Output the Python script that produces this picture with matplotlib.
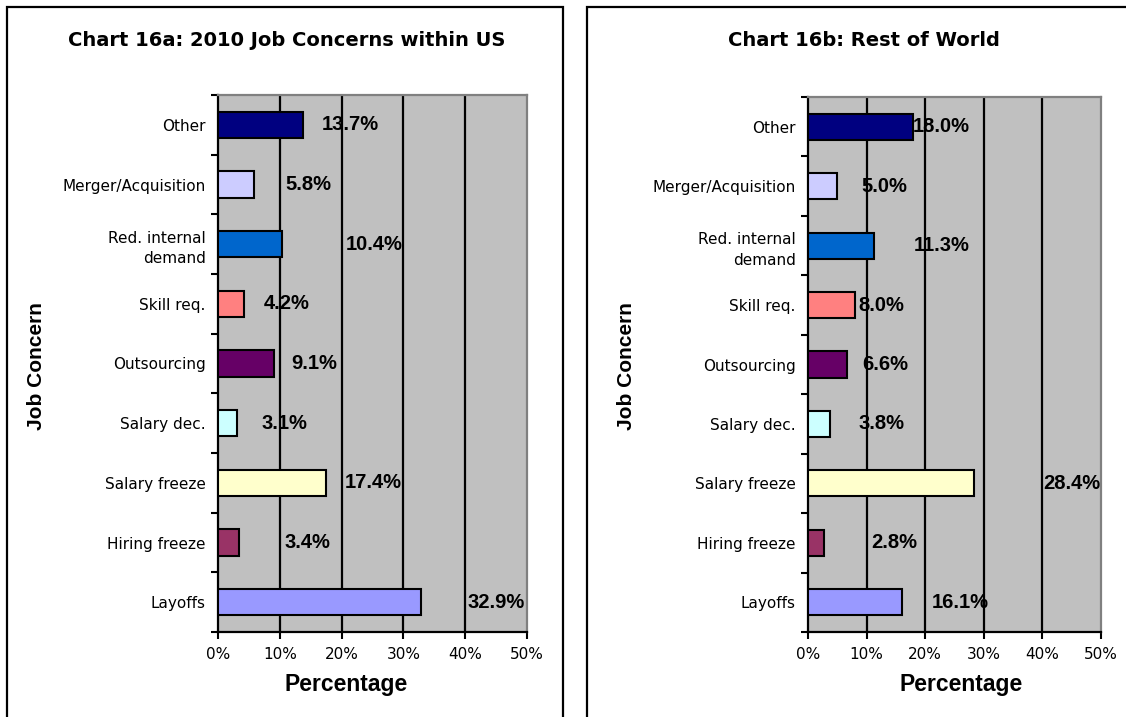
#!/usr/bin/env python3

import numpy as np
import matplotlib
matplotlib.use("Agg")
import matplotlib.pyplot as plt
from matplotlib.patches import Rectangle
from matplotlib.ticker import FixedLocator, PercentFormatter


concerns = ['Layoffs', 'Hiring freeze', 'Salary freeze', 'Salary dec.', 'Outsourcing',
            'Skill req.', 'Red. internal\ndemand', 'Merger/Acquisition', 'Other']
bar_colors = ['#9999FF', '#993366', '#FFFFCC', '#CCFFFF', '#660066',
              '#FF8080', '#0066CC', '#CCCCFF', '#000080']

us_pct = [32.9, 3.4, 17.4, 3.1, 9.1, 4.2, 10.4, 5.8, 13.7]
row_pct = [16.1, 2.8, 28.4, 3.8, 6.6, 8.0, 11.3, 5.0, 18.0]

# where the value labels sit along the x axis (in percent)
us_label_x = [45.0, 14.4, 25.2, 10.8, 15.6, 11.1, 25.2, 14.6, 21.4]
row_label_x = [26.0, 14.8, 45.1, 12.5, 13.1, 12.5, 22.8, 13.05, 22.8]

xticks = [0, 10, 20, 30, 40, 50]

W, H = 1126, 717
fig = plt.figure(figsize=(W / 100, H / 100), dpi=100)
fig.patch.set_facecolor('white')


def px_box(x0, y0, x1, y1):
    # pixel box (top-left origin) -> figure fraction [l, b, w, h]
    return [x0 / W, 1 - y1 / H, (x1 - x0) / W, (y1 - y0) / H]


def draw_panel(frame, ax_box, title, title_x, ylab_x, xlab_x, values, label_x):
    l, b, w, h = px_box(*frame)
    fig.add_artist(Rectangle((l, b), w, h, transform=fig.transFigure,
                             fill=False, edgecolor='black', linewidth=1.6))
    fig.text(title_x / W, 1 - 40 / H, title, ha='center', va='center',
             fontsize=14, fontweight='bold', family='DejaVu Sans')

    ax = fig.add_axes(px_box(*ax_box))
    ax.set_facecolor('#C0C0C0')
    y = np.arange(len(concerns))
    ax.barh(y, values, height=0.44, color=bar_colors, edgecolor='black',
            linewidth=1.5, zorder=3)
    for yi, v, lx in zip(y, values, label_x):
        ax.text(lx, yi, f'{v:.1f}%', ha='center', va='center', fontsize=14.5,
                fontweight='bold', family='Liberation Sans', zorder=4)

    ax.set_xlim(0, 50)
    ax.set_ylim(-0.5, len(concerns) - 0.5)
    ax.set_xticks(xticks)
    ax.xaxis.set_major_formatter(PercentFormatter(decimals=0))
    for gx in xticks[1:-1]:
        ax.axvline(gx, color='black', linewidth=1.6, zorder=2)

    ax.set_yticks(y)
    ax.set_yticklabels(concerns, fontsize=11, family='DejaVu Sans',
                       linespacing=1.45)
    ax.yaxis.set_minor_locator(FixedLocator(np.arange(-0.5, len(concerns), 1)))
    ax.tick_params(axis='y', which='major', length=0, pad=9)
    ax.tick_params(axis='y', which='minor', length=5, width=1.5, direction='out')
    ax.tick_params(axis='x', length=5, width=1.5, direction='out', labelsize=11,
                   pad=6)

    for side in ('left', 'bottom'):
        ax.spines[side].set_color('black')
        ax.spines[side].set_linewidth(1.6)
    for side in ('top', 'right'):
        ax.spines[side].set_color('#808080')
        ax.spines[side].set_linewidth(1.6)

    fig.text(xlab_x / W, 1 - 684 / H, 'Percentage', ha='center', va='center',
             fontsize=16.5, fontweight='bold', family='Liberation Sans')
    fig.text(ylab_x / W, 1 - 366 / H, 'Job Concern', rotation=90,
             ha='center', va='center', fontsize=15, fontweight='bold',
             family='Liberation Sans')
    return ax


draw_panel((7, 7, 563, 740), (218, 95, 527, 632),
           'Chart 16a: 2010 Job Concerns within US', 287, 37, 346,
           us_pct, us_label_x)
draw_panel((587, 7, 1140, 740), (808, 97, 1101, 632),
           'Chart 16b: Rest of World', 864, 627, 961,
           row_pct, row_label_x)

fig.savefig('out.png', dpi=100)
